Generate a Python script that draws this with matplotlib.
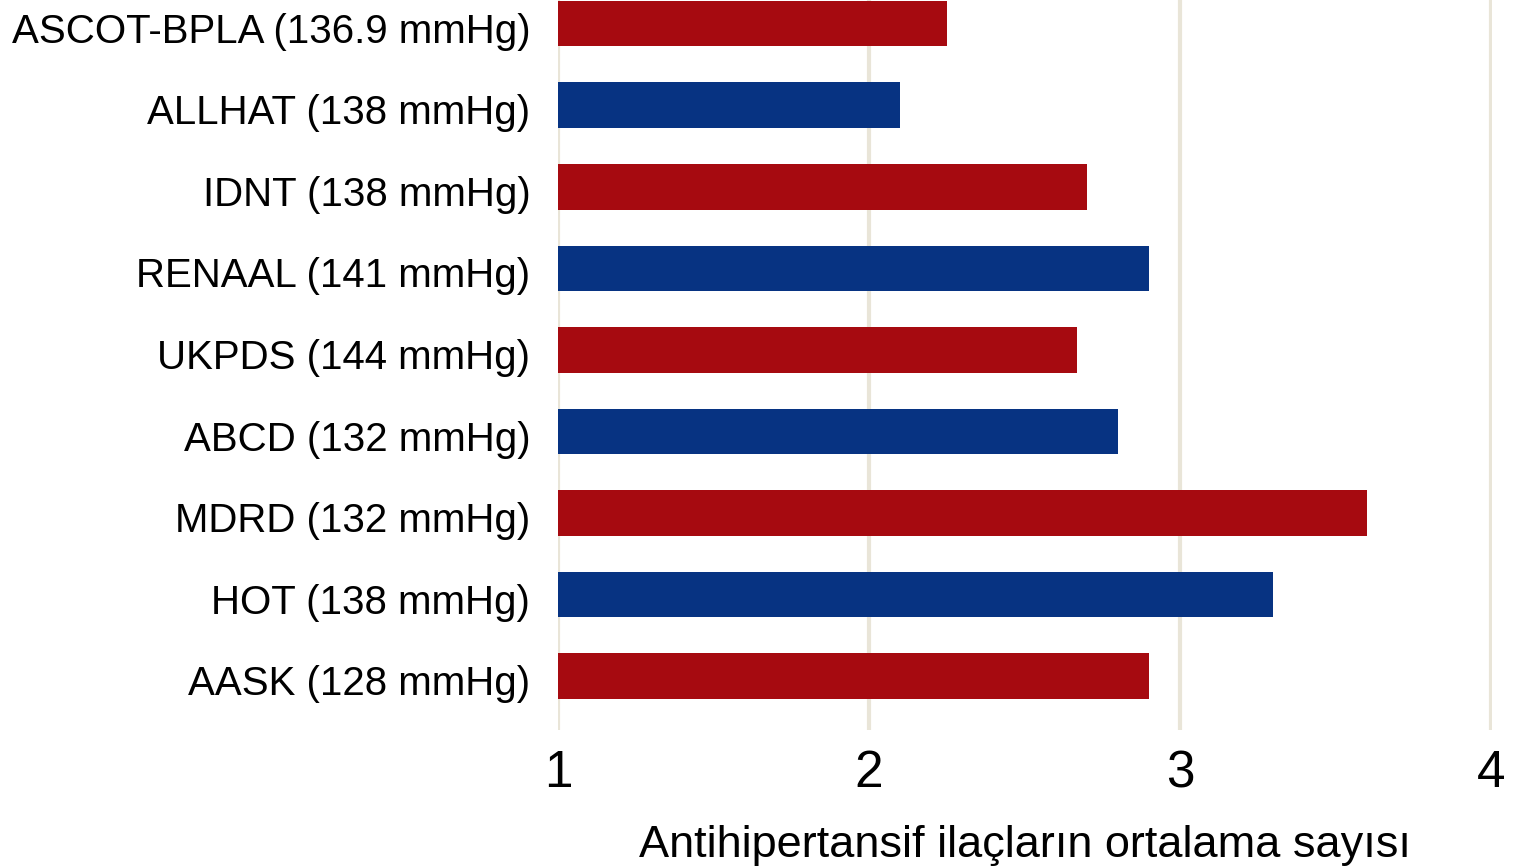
import numpy as np
import matplotlib.pyplot as plt

plt.rcParams['font.family'] = ['Liberation Sans', 'DejaVu Sans']

trials = ['AASK (128 mmHg)', 'HOT (138 mmHg)', 'MDRD (132 mmHg)', 'ABCD (132 mmHg)',
          'UKPDS (144 mmHg)', 'RENAAL (141 mmHg)', 'IDNT (138 mmHg)', 'ALLHAT (138 mmHg)',
          'ASCOT-BPLA (136.9 mmHg)']
drugs = [2.9, 3.3, 3.6, 2.8, 2.67, 2.9, 2.7, 2.1, 2.25]

red = '#a60a10'
blue = '#073382'
colors = [red if i % 2 == 0 else blue for i in range(len(trials))]

fig = plt.figure(figsize=(15.21, 8.68), dpi=100)
ax = fig.add_axes([0.3669, 0.159, 0.6141, 0.841])

y = np.arange(len(trials))
base = 1
ax.barh(y, np.array(drugs) - base, left=base, height=0.56, color=colors, zorder=3)

ax.set_xlim(1, 4.003)
ax.set_ylim(-0.66, 8.29)
ax.set_xticks([1, 2, 3, 4])
ax.set_yticks(y - 0.05)
ax.set_yticklabels(trials, fontsize=29)
ax.tick_params(axis='x', labelsize=37, length=0, pad=14)
ax.tick_params(axis='y', length=0, pad=20)
ax.grid(axis='x', color='#e9e5d8', linewidth=3, zorder=0)
for s in ax.spines.values():
    s.set_visible(False)

ax.set_xlabel('Antihipertansif ilaçların ortalama sayısı', fontsize=32.5, labelpad=19)

fig.savefig('out.png', dpi=100)
